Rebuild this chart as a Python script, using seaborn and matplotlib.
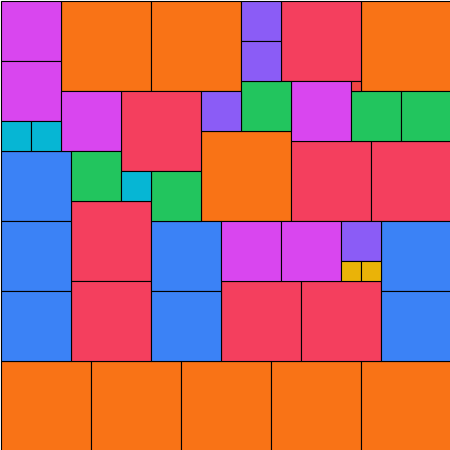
import pandas as pd
import numpy as np
import seaborn as sns
import matplotlib
matplotlib.use("Agg")
import matplotlib.pyplot as plt

# squares: left x, top y (grid units of 10 px), side length
xs = [6, 15, 36, 20, 0, 9, 18, 27, 36,
      28, 12, 29, 37, 7, 7, 22, 30,
      0, 0, 0, 15, 15, 38, 38,
      0, 0, 6, 29, 22, 28,
      24, 35, 40, 7, 15,
      24, 24, 20, 34,
      0, 3, 12,
      34, 36,
      35]
ys = [0, 0, 0, 13, 36, 36, 36, 36, 36,
      0, 9, 14, 14, 20, 28, 28, 28,
      15, 22, 29, 22, 29, 22, 29,
      0, 6, 9, 8, 22, 22,
      8, 9, 9, 15, 17,
      0, 4, 9, 22,
      12, 12, 17,
      26, 26,
      8]
sizes = [9]*9 + [8]*8 + [7]*7 + [6]*6 + [5]*5 + [4]*4 + [3]*3 + [2]*2 + [1]

size_colors = {9: "#f97316", 8: "#f43f5e", 7: "#3b82f6", 6: "#d946ef",
               5: "#22c55e", 4: "#8b5cf6", 3: "#06b6d4", 2: "#eab308", 1: "#ef4444"}

df = pd.DataFrame({"x": xs, "y": ys, "size": sizes})
df["color"] = df["size"].map(size_colors)

sns.set_style("white")
fig = plt.figure(figsize=(4.5, 4.5), dpi=100)
ax = fig.add_axes([0, 0, 1, 1])

ax.bar(df["x"], df["size"], width=df["size"], bottom=df["y"], align="edge",
       color=df["color"], edgecolor="black", linewidth=0.8)

# shift half a pixel so the left/top strokes show, right/bottom fall outside
ax.set_xlim(-0.05, 44.95)
ax.set_ylim(44.95, -0.05)
ax.axis("off")

fig.savefig("out.png", dpi=100)
